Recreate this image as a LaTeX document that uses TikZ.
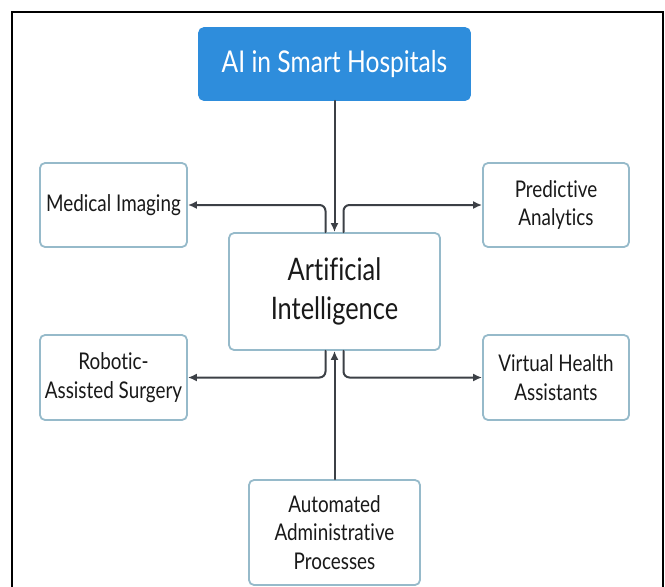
\documentclass[tikz,border=0pt]{standalone}
\usepackage{fontspec}
\setmainfont[FakeStretch=0.82,Ligatures={NoCommon,NoRare}]{Lato}
\usetikzlibrary{arrows.meta}

\begin{document}
\begin{tikzpicture}
[x=1pt,y=-1pt,line cap=round,
% Styles
box/.style={draw=boxcolor,line width=1.8pt,fill=white,rounded corners=5pt,
  align=center,text=textcolor,inner sep=0pt,font=\fontsize{23}{28.5}\selectfont},
title box/.style={box,draw=titlecolor,fill=titlecolor,text=white,
  font=\fontsize{30}{35}\selectfont},
main box/.style={box,font=\fontsize{31}{39}\selectfont},
link/.style={draw=linecolor,line width=2pt,rounded corners=6pt,
  -{Latex[length=9pt,width=8pt]}}]
% Colors
\definecolor{titlecolor}{RGB}{46,141,220}
\definecolor{boxcolor}{RGB}{150,186,202}
\definecolor{linecolor}{RGB}{60,64,70}
\definecolor{textcolor}{RGB}{25,25,25}

% The frame
\useasboundingbox (0,0) rectangle (665,587);
\draw[line width=2.5pt] (12,600) -- (12,12) -- (663,12) -- (663,600);

% The boxes
\node[title box,minimum width=271pt,minimum height=72pt] (title) at (334.5,64) {AI in Smart Hospitals};
\node[main box,minimum width=211pt,minimum height=117pt] (ai) at (334.5,291.5) {Artificial\\Intelligence};
\node[box,minimum width=147pt,minimum height=84pt] (imaging) at (113.5,205) {Medical Imaging};
\node[box,minimum width=146pt,minimum height=84pt] (analytics) at (556,205) {Predictive\\Analytics};
\node[box,minimum width=147pt,minimum height=85pt] (surgery) at (113.5,377.5) {Robotic-\\Assisted Surgery};
\node[box,minimum width=146pt,minimum height=85pt] (assistants) at (556,377.5) {Virtual Health\\Assistants};
\node[box,minimum width=171pt,minimum height=105pt] (admin) at (334.5,532.5) {Automated\\Administrative\\Processes};

% The links
\draw[link] (title) -- (ai);
\draw[link] (admin) -- (ai);
\draw[link] ([xshift=-9pt]ai.north) |- (imaging.east);
\draw[link] ([xshift=9pt]ai.north) |- (analytics.west);
\draw[link] ([xshift=-9pt]ai.south) |- (surgery.east);
\draw[link] ([xshift=9pt]ai.south) |- (assistants.west);
\end{tikzpicture}
\end{document}
